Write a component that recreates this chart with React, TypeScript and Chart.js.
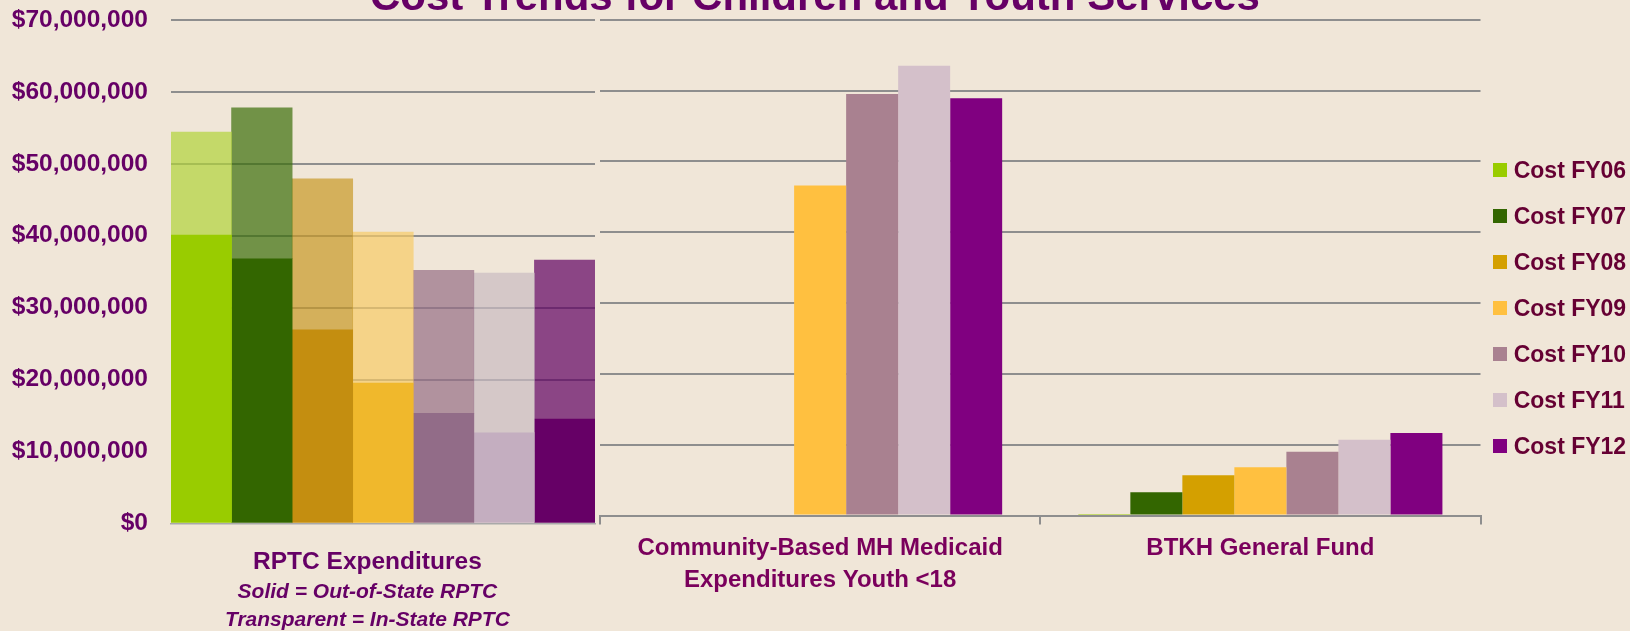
import React, { useEffect, useRef } from 'react';
import { Chart, registerables } from 'chart.js';

Chart.register(...registerables);

// ---------- data ----------
const chartTitle = 'Cost Trends for Children and Youth Services';
const fiscalYears = ['Cost FY06', 'Cost FY07', 'Cost FY08', 'Cost FY09', 'Cost FY10', 'Cost FY11', 'Cost FY12'];

const rptcCategory = ['RPTC Expenditures'];
const rptcNote = ['Solid = Out-of-State RPTC', 'Transparent = In-State RPTC'];
// RPTC: solid part = out-of-state, transparent part (stacked above) = in-state
const outOfStateRptc = [40100000, 36800000, 26900000, 19500000, 15300000, 12600000, 14500000];
const inStateRptc = [14300000, 21000000, 21000000, 21000000, 19900000, 22200000, 22100000];

const otherCategories = [['Community-Based MH Medicaid', 'Expenditures Youth <18'], 'BTKH General Fund'];
const communityMh = [0, 0, 0, 46600000, 59500000, 63500000, 58900000];
const btkhFund = [200000, 3300000, 5700000, 6800000, 9000000, 10700000, 11650000];

const yMin = 0;
const yMax = 70000000;
const yStep = 10000000;

// ---------- styles ----------
const legendColors = ['#99CC00', '#336600', '#D4A000', '#FFC040', '#A98190', '#D4C0CA', '#800080'];
const outOfStateColors = ['#99CC00', '#336600', '#C48E10', '#F0B82C', '#926C88', '#C4AEC0', '#660066'];
const inStateColors = [
  'rgba(177,211,59,0.7)',
  'rgba(59,110,10,0.7)',
  'rgba(200,153,39,0.7)',
  'rgba(246,203,103,0.7)',
  'rgba(149,109,134,0.7)',
  'rgba(201,187,194,0.7)',
  'rgba(96,0,99,0.7)',
];
const BG = '#F0E6D8';
const GRID = '#8E8E8E';
const FONT = "'Liberation Sans', Arial, sans-serif";
const LABEL_SHIFT = -15.6;

const fmtMoney = (v: number) => '$' + Number(v).toLocaleString('en-US');

const rptcNotePlugin = {
  id: 'rptcNote',
  afterDraw(chart: any) {
    const xs = chart.scales.x;
    const ctx = chart.ctx;
    const cx = xs.getPixelForTick(0) + LABEL_SHIFT;
    ctx.save();
    ctx.font = `italic bold 21px ${FONT}`;
    ctx.fillStyle = '#660066';
    ctx.textAlign = 'center';
    ctx.textBaseline = 'middle';
    rptcNote.forEach((t, i) => {
      ctx.fillText(t, cx, xs.top + 69.4 + 27.3 * i);
    });
    ctx.restore();
  },
};

export default function App() {
  const leftRef = useRef<HTMLCanvasElement | null>(null);
  const rightRef = useRef<HTMLCanvasElement | null>(null);

  useEffect(() => {
    const leftDatasets: any[] = [];
    fiscalYears.forEach((fy, i) => {
      leftDatasets.push({
        label: fy + ' out-of-state',
        data: [outOfStateRptc[i]],
        backgroundColor: outOfStateColors[i],
        borderWidth: 0,
        stack: fy,
      });
      leftDatasets.push({
        label: fy + ' in-state',
        data: [inStateRptc[i]],
        backgroundColor: inStateColors[i],
        borderWidth: 0,
        stack: fy,
      });
    });

    const left = new Chart(leftRef.current as HTMLCanvasElement, {
      type: 'bar',
      data: { labels: rptcCategory, datasets: leftDatasets },
      plugins: [rptcNotePlugin],
      options: {
        responsive: false,
        animation: false,
        events: [],
        layout: { padding: { left: 0, right: 5, top: 20, bottom: 0 } },
        datasets: { bar: { categoryPercentage: 1, barPercentage: 1 } },
        plugins: { legend: { display: false }, tooltip: { enabled: false }, title: { display: false } },
        scales: {
          x: {
            stacked: true,
            grid: { display: false, drawTicks: false },
            border: { display: true, color: '#A9A9A9', width: 1.5 },
            ticks: {
              color: '#660066',
              padding: 24,
              labelOffset: LABEL_SHIFT,
              font: { family: FONT, size: 24.5, weight: 'bold', lineHeight: 1.2 },
            },
            afterFit: (s: any) => {
              s.height = 631 - 523.3;
            },
          },
          y: {
            stacked: true,
            min: yMin,
            max: yMax,
            grid: {
              drawTicks: false,
              color: (c: any) => (c.tick && c.tick.value === 0 ? 'rgba(0,0,0,0)' : GRID),
              lineWidth: 2,
            },
            border: { display: false },
            ticks: {
              stepSize: yStep,
              padding: 23,
              color: '#660066',
              font: { family: FONT, size: 24.5, weight: 'bold', lineHeight: 1.2 },
              callback: (v: any) => fmtMoney(v),
            },
            afterFit: (s: any) => {
              s.width = 171;
              s.paddingTop = 0;
              s.paddingBottom = 0;
            },
          },
        },
      },
    });

    const right = new Chart(rightRef.current as HTMLCanvasElement, {
      type: 'bar',
      data: {
        labels: otherCategories,
        datasets: fiscalYears.map((fy, i) => ({
          label: fy,
          data: [communityMh[i], btkhFund[i]],
          backgroundColor: legendColors[i],
          borderWidth: 0,
        })),
      },
      options: {
        responsive: false,
        animation: false,
        events: [],
        layout: { padding: { left: 600, right: 149.5, top: 19.7, bottom: 0 } },
        datasets: { bar: { categoryPercentage: 0.827, barPercentage: 1 } },
        plugins: { legend: { display: false }, tooltip: { enabled: false }, title: { display: false } },
        scales: {
          x: {
            grid: { display: true, drawOnChartArea: false, drawTicks: true, tickLength: 9, color: GRID, lineWidth: 2 },
            border: { display: true, color: GRID, width: 2 },
            ticks: {
              color: '#7A005C',
              padding: 7.5,
              font: { family: FONT, size: 24, weight: 'bold', lineHeight: '32px' },
            },
            afterFit: (s: any) => {
              s.height = 631 - 515.5;
            },
          },
          y: {
            min: yMin,
            max: yMax,
            grid: { drawTicks: false, color: GRID, lineWidth: 2 },
            border: { display: false },
            ticks: { display: false, stepSize: yStep },
            afterFit: (s: any) => {
              s.width = 0;
              s.paddingTop = 0;
              s.paddingBottom = 0;
            },
          },
        },
      },
    });

    return () => {
      left.destroy();
      right.destroy();
    };
  }, []);

  return (
    <div
      style={{
        position: 'fixed',
        left: 0,
        top: 0,
        width: 1630,
        height: 631,
        overflow: 'hidden',
        background: BG,
      }}
    >
      <canvas ref={rightRef} width={1630} height={631} style={{ position: 'absolute', left: 0, top: 0 }} />
      <canvas ref={leftRef} width={600} height={631} style={{ position: 'absolute', left: 0, top: 0 }} />
      <div
        style={{
          position: 'absolute',
          left: 0,
          top: -25,
          width: 1630,
          textAlign: 'center',
          fontFamily: FONT,
          fontWeight: 'bold',
          fontSize: 42,
          lineHeight: '42px',
          color: '#660066',
          whiteSpace: 'nowrap',
        }}
      >
        {chartTitle}
      </div>
      {fiscalYears.map((fy, i) => (
        <div
          key={fy}
          style={{
            position: 'absolute',
            left: 1493,
            top: 170 + 46 * i - 15,
            height: 30,
            display: 'flex',
            alignItems: 'center',
            whiteSpace: 'nowrap',
          }}
        >
          <span style={{ display: 'inline-block', width: 14, height: 14, background: legendColors[i], marginRight: 6.7 }} />
          <span
            style={{
              fontFamily: FONT,
              fontWeight: 'bold',
              fontSize: 23,
              lineHeight: '30px',
              color: '#660033',
            }}
          >
            {fy}
          </span>
        </div>
      ))}
    </div>
  );
}
